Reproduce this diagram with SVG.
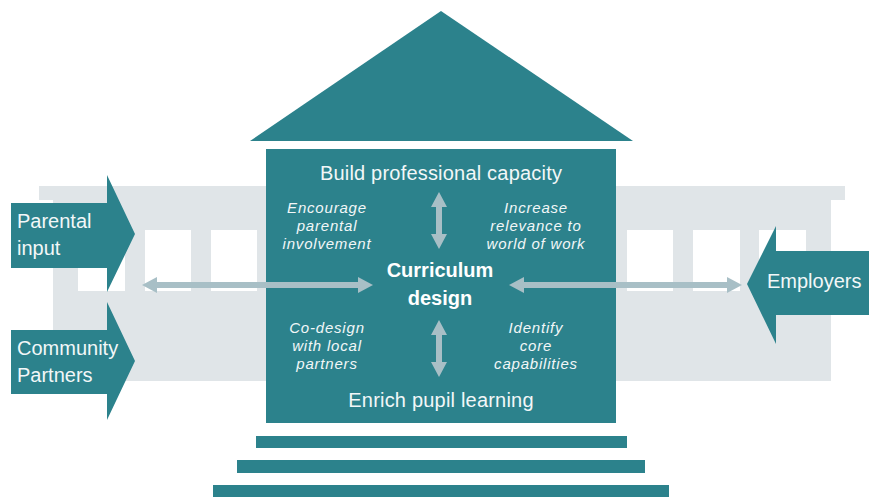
<svg xmlns="http://www.w3.org/2000/svg" width="869" height="498" viewBox="0 0 869 498">
<defs>
<style>
.teal{fill:#2c828c}
.bldg{fill:#e0e5e8}
.win{fill:#ffffff}
.lbl{font-family:"Liberation Sans",Arial,sans-serif;fill:#f2f7f8}
.side{font-size:20px}
.head{font-size:20px;text-anchor:middle;letter-spacing:0.2px}
.it{font-size:15px;font-style:italic;text-anchor:middle;letter-spacing:0.8px}
.core{font-family:"Liberation Sans",Arial,sans-serif;font-size:20px;font-weight:bold;text-anchor:middle;fill:#ffffff}
.conn{stroke:#a8bfc6;stroke-width:6;fill:none}
</style>
<marker id="ah" viewBox="0 0 15 16" refX="9" refY="8" markerWidth="15" markerHeight="16" markerUnits="userSpaceOnUse" orient="auto-start-reverse">
<path d="M0,0 L15,8 L0,16 Z" fill="#a8bfc6"/>
</marker>
</defs>
<rect width="869" height="498" fill="#ffffff"/>
<g id="background-building">
<rect class="bldg" x="39" y="186" width="806" height="14"/>
<rect class="bldg" x="53" y="199" width="778" height="182"/>
<rect class="win" x="78" y="230" width="47" height="61"/>
<rect class="win" x="145" y="230" width="46" height="61"/>
<rect class="win" x="211" y="230" width="46" height="61"/>
<rect class="win" x="627" y="230" width="46" height="61"/>
<rect class="win" x="693" y="230" width="47" height="61"/>
<rect class="win" x="759" y="230" width="47" height="61"/>
</g>
<g id="roof">
<polygon class="teal" points="441,11 633,141 250,141"/>
</g>
<g id="steps">
<rect class="teal" x="256" y="436" width="371" height="12"/>
<rect class="teal" x="237" y="460" width="408" height="13"/>
<rect class="teal" x="213" y="485" width="456" height="12"/>
</g>
<g id="curriculum-box">
<rect class="teal" x="266" y="149" width="350" height="274"/>
<text class="lbl head" x="441" y="180">Build professional capacity</text>
<text class="lbl head" x="441" y="407">Enrich pupil learning</text>
<text class="core" x="440" y="277">Curriculum</text>
<text class="core" x="440" y="305">design</text>
</g>
<g id="encourage">
<text class="lbl it" x="327" y="213">Encourage</text>
<text class="lbl it" x="327" y="231">parental</text>
<text class="lbl it" x="327" y="249">involvement</text>
</g>
<g id="increase">
<text class="lbl it" x="536" y="213">Increase</text>
<text class="lbl it" x="536" y="231">relevance to</text>
<text class="lbl it" x="536" y="249">world of work</text>
</g>
<g id="codesign">
<text class="lbl it" x="327" y="333">Co-design</text>
<text class="lbl it" x="327" y="351">with local</text>
<text class="lbl it" x="327" y="369">partners</text>
</g>
<g id="identify">
<text class="lbl it" x="536" y="333">Identify</text>
<text class="lbl it" x="536" y="351">core</text>
<text class="lbl it" x="536" y="369">capabilities</text>
</g>
<g id="parental-input">
<polygon class="teal" points="11,203 107,203 107,175 135,234 107,292 107,268 11,268"/>
<text class="lbl side" x="17" y="228">Parental</text>
<text class="lbl side" x="17" y="255">input</text>
</g>
<g id="community-partners">
<polygon class="teal" points="11,330 107,330 107,302 135,361 107,420 107,394 11,394"/>
<text class="lbl side" x="17" y="355">Community</text>
<text class="lbl side" x="17" y="382">Partners</text>
</g>
<g id="employers">
<polygon class="teal" points="869,251 776,251 776,226 747,284 776,344 776,315 869,315"/>
<text class="lbl side" x="767" y="288">Employers</text>
</g>
<g id="connectors">
<line class="conn" x1="148" y1="285" x2="367" y2="285" marker-start="url(#ah)" marker-end="url(#ah)"/>
<line class="conn" x1="515" y1="285" x2="736" y2="285" marker-start="url(#ah)" marker-end="url(#ah)"/>
<line class="conn" x1="439" y1="198" x2="439" y2="243" marker-start="url(#ah)" marker-end="url(#ah)"/>
<line class="conn" x1="439" y1="326" x2="439" y2="371" marker-start="url(#ah)" marker-end="url(#ah)"/>
</g>
</svg>
